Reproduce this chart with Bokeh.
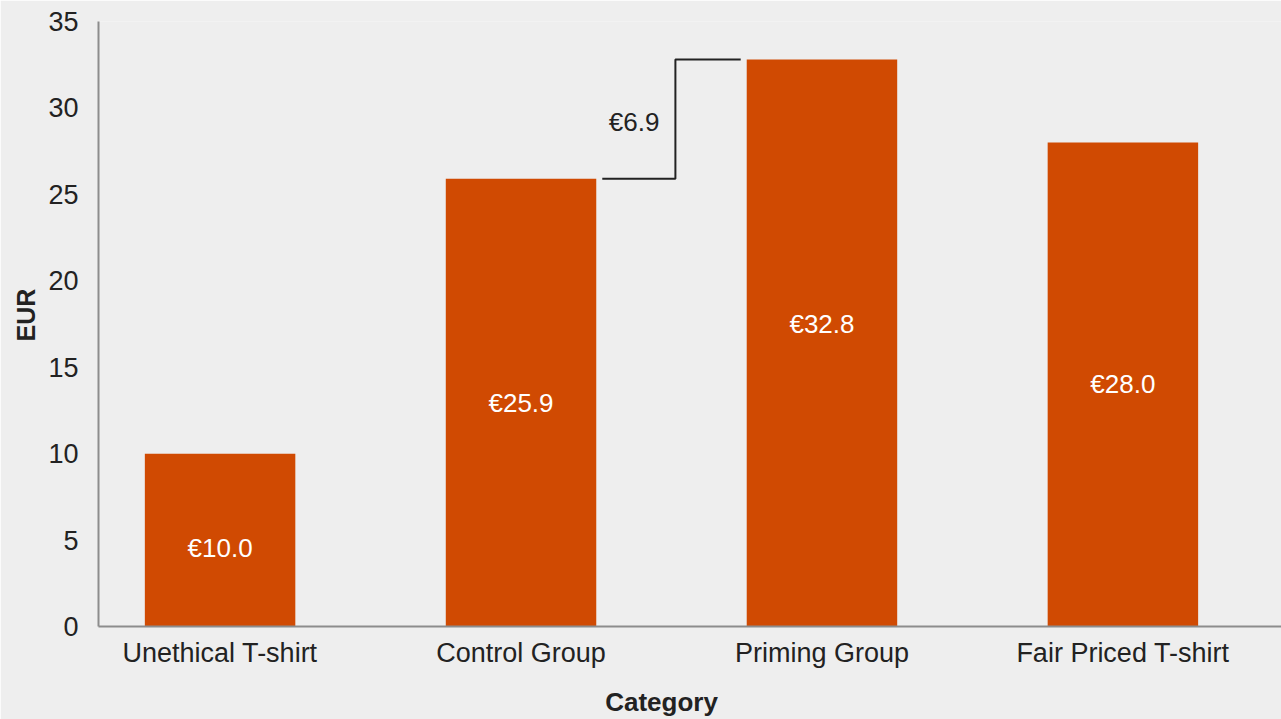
from bokeh.plotting import figure
from bokeh.models import ColumnDataSource, Range1d, FixedTicker, Title, LinearAxis
from bokeh.core.properties import value
from bokeh.embed import file_html
from bokeh.resources import INLINE

categories = ["Unethical T-shirt", "Control Group", "Priming Group", "Fair Priced T-shirt"]
values = [10.0, 25.9, 32.8, 28.0]
y_ticks = [0, 5, 10, 15, 20, 25, 30, 35]

FONT = "Liberation Sans"
BG = "#eeeeee"
BAR = "#d04a02"
TXT = "#222222"

xs = [i + 0.5 for i in range(len(categories))]
label_shift = [8, 0, -19, -1]  # pixel nudges of the in-bar labels
src = ColumnDataSource(dict(
    x=xs, top=values, mid=[v / 2 for v in values], dy=label_shift,
    label=["€{:.1f}".format(v) for v in values],
))

x0, x1 = 0.096, 4.027
p = figure(width=1281, height=719, output_backend="svg", toolbar_location=None,
           x_range=Range1d(x0, x1), y_range=Range1d(0, 35),
           background_fill_color=BG, border_fill_color=BG,
           min_border_left=98, min_border_right=0, min_border_top=21, min_border_bottom=93)
p.outline_line_color = None
p.grid.visible = False

p.vbar(x="x", top="top", width=0.5, bottom=0, source=src, color=BAR, line_color=None)
p.text(x="x", y="mid", text="label", source=src, text_color="white",
       text_font=value(FONT), text_font_size="26px", text_align="center",
       text_baseline="middle", y_offset="dy")

# difference bracket between Control Group and Priming Group
i0, i1 = 1, 2
v0, v1 = values[i0], values[i1]
xa = xs[i0] + 0.27
xm = (xs[i0] + xs[i1]) / 2 + 0.013
xb = xs[i1] - 0.27
p.line(x=[xa, xm, xm, xb], y=[v0, v0, v1, v1], line_color=TXT, line_width=2)
p.text(x=[xm], y=[(v0 + v1) / 2], text=["€{:.1f}".format(v1 - v0)], text_color=TXT,
       text_font=value(FONT), text_font_size="26px", text_align="right",
       text_baseline="middle", x_offset=-16, y_offset=3)

p.xaxis.ticker = FixedTicker(ticks=xs)
p.xaxis.major_label_overrides = {x: c for x, c in zip(xs, categories)}
p.yaxis.ticker = FixedTicker(ticks=y_ticks)
for ax in (p.xaxis, p.yaxis):
    ax.axis_line_color = "#8c8c8c"
    ax.axis_line_width = 2
    ax.major_tick_line_color = None
    ax.minor_tick_line_color = None
    ax.major_tick_in = 0
    ax.major_tick_out = 0
    ax.major_label_text_font = FONT
    ax.major_label_text_font_size = "27px"
    ax.major_label_text_color = TXT
p.xaxis.major_label_standoff = 11
p.yaxis.major_label_standoff = 20

# x-axis title: a label-only axis so it can sit where the reference puts it
xc = 1.967
title_axis = LinearAxis(ticker=FixedTicker(ticks=[xc]),
                        major_label_overrides={xc: "Category"},
                        axis_line_color=None, major_tick_line_color=None,
                        minor_tick_line_color=None, major_tick_in=0, major_tick_out=0,
                        major_label_standoff=16, major_label_text_font=FONT,
                        major_label_text_font_size="26px",
                        major_label_text_font_style="bold",
                        major_label_text_color=TXT)
p.add_layout(title_axis, "below")
p.add_layout(Title(text="EUR", align="left", offset=285, text_font=FONT,
                   text_font_size="25px", text_font_style="bold", text_color=TXT,
                   standoff=11), "left")

open("out.html", "w").write(file_html(p, INLINE))
